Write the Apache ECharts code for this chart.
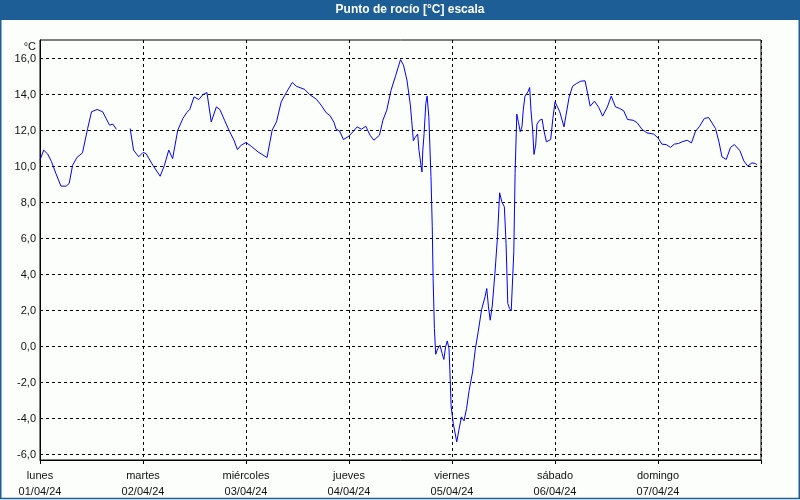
<!DOCTYPE html>
<html>
<head>
<meta charset="utf-8">
<script src="https://cdn.jsdelivr.net/npm/echarts@6/dist/echarts.min.js"></script>
<style>
  html, body { margin: 0; padding: 0; background: #fcfefc; }
  #chart { width: 800px; height: 500px; }
</style>
</head>
<body>
<div id="chart"></div>
<script>
// Data (hours since 01/04/24 00:00, dew point °C)
var hours = [0, 0.86, 1.8, 2.7, 3.7, 4.9, 6.1, 6.8, 7.6, 8.6, 9.9, 11.1, 12.0, 13.3, 14.6, 15.4, 16.2, 17.0, 17.8,
  19.4,
  21.0, 21.8, 23.0, 24.0, 24.7, 26.3, 28.0, 29.0, 30.0, 30.9, 32.1, 33.3, 34.2, 34.9, 35.9, 37.0, 38.0, 38.9, 39.9,
  41.1, 41.9, 43.0, 44.2, 45.2, 46.0, 46.9, 48.0, 49.2, 50.8, 52.9, 54.1, 55.1, 56.2, 57.4, 58.8, 59.7, 61.7, 62.8,
  64.4, 65.5, 66.7, 67.6, 68.5, 69.0, 69.8, 70.7, 72.0, 73.1, 73.9, 74.9, 75.9, 76.9, 77.8, 79.1, 79.9, 80.8, 81.8,
  82.9, 84.0, 84.7, 85.5, 86.3, 86.6, 87.0, 87.4, 88.0, 88.3, 88.8, 89.0, 89.2, 89.5, 89.9, 90.2, 90.6, 91.1, 91.4,
  91.6, 91.9, 92.2, 92.7, 93.2, 93.7, 94.1, 94.5, 94.9, 95.3, 95.5, 95.8, 96.3, 97.1, 97.6, 98.2, 98.8, 99.4, 100.0,
  100.8, 101.4, 102.1, 102.9, 103.7, 104.1, 104.5, 104.9, 105.4, 106.0, 106.6, 107.1, 107.6, 108.2, 108.6, 109.0,
  109.4, 109.8, 110.4, 110.7, 111.1, 111.5, 111.9, 112.3, 112.6, 113.0, 113.7, 114.1, 114.4, 114.8, 115.1, 115.5,
  115.8, 116.4, 117.0, 117.4, 118.0, 119.0, 119.5, 120.0, 120.5, 121.1, 122.1, 122.5, 123.3, 124.1, 125.0, 126.0,
  127.0, 127.6, 128.2, 129.2, 130.2, 131.1, 132.2, 133.1, 134.1, 135.1, 136.0, 136.9, 138.2, 139.1, 140.3, 141.4,
  143.0, 144.0, 144.9, 145.9, 146.9, 147.8, 148.8, 149.6, 150.8, 151.8, 152.7, 153.7, 154.8, 155.8, 157.4, 158.2,
  158.9, 159.9, 160.9, 161.8, 163.1, 164.0, 164.9, 165.9, 166.7, 167.1];
var dewPoint = [10.35, 10.91, 10.69, 10.26, 9.61, 8.91, 8.91, 9.06, 10.07, 10.5, 10.76, 12.11, 13.04, 13.17, 13.04, 12.67, 12.3, 12.35, 12.07,
  null,
  12.11, 10.91, 10.54, 10.78, 10.72, 10.07, 9.46, 10.07, 10.91, 10.44, 12.02, 12.67, 13.0, 13.17, 13.87, 13.72, 14.0, 14.11, 12.48,
  13.31, 13.17, 12.57, 11.93, 11.46, 10.94, 11.19, 11.33, 11.13, 10.81, 10.5, 12.02, 12.48, 13.59, 14.11, 14.67, 14.46, 14.28, 14.0,
  13.74, 13.41, 12.98, 12.82, 12.45, 12.07, 11.98, 11.5, 11.69, 11.98, 12.2, 12.07, 12.24, 11.74, 11.46, 11.74, 12.57, 13.13, 14.24,
  15.07, 15.94, 15.63, 14.8, 13.41, 12.57, 11.43, 11.61, 11.8, 10.91, 10.02, 9.7, 10.91, 11.83, 13.5, 13.91, 12.76, 9.43, 6.65,
  3.78, 1.0, -0.43, -0.11, 0.07, -0.39, -0.72, -0.02, 0.31, -0.11, -1.31, -3.35, -4.28, -5.3, -4.65, -3.91, -4.13, -3.44, -2.43,
  -1.41, -0.2, 0.81, 2.06, 2.76, 3.22, 2.2, 1.46, 2.3, 4.06, 6.09, 8.54, 8.04, 7.76, 5.72, 2.39,
  2.11, 1.98, 5.26, 9.61, 12.91, 12.43, 11.93, 12.2, 13.13, 13.91, 14.15, 14.39, 13.13, 12.02, 10.67, 11.19,
  12.35, 12.57, 12.63, 12.02, 11.37, 11.5, 12.67, 13.59, 13.35, 13.04, 12.2, 12.76, 13.87, 14.46, 14.61, 14.74,
  14.76, 14.06, 13.35, 13.63, 13.28, 12.8, 13.31, 13.91, 13.31, 13.22, 13.1, 12.61, 12.57, 12.44, 12.06, 11.87,
  11.8, 11.59, 11.24, 11.22, 11.06, 11.24, 11.28, 11.37, 11.46, 11.31, 11.93, 12.24, 12.67, 12.72, 12.11, 11.37,
  10.54, 10.39, 11.06, 11.22, 10.87, 10.31, 10.02, 10.2, 10.17, 10.07];
var dayNames = ['lunes', 'martes', 'miércoles', 'jueves', 'viernes', 'sábado', 'domingo'];
var dayDates = ['01/04/24', '02/04/24', '03/04/24', '04/04/24', '05/04/24', '06/04/24', '07/04/24'];
var yTicks = [-6, -4, -2, 0, 2, 4, 6, 8, 10, 12, 14, 16];
var titleText = 'Punto de rocío [°C] escala';
var unitText = '°C';

var seriesData = hours.map(function (h, i) { return [h, dewPoint[i] === null ? '-' : dewPoint[i]]; });

var FONT = 'Liberation Sans';
var BAR = '#1e5e96';
var chart = echarts.init(document.getElementById('chart'), null, { renderer: 'canvas' });
chart.setOption({
  animation: false,
  backgroundColor: '#fcfefc',
  textStyle: { fontFamily: FONT },
  grid: [
    { left: 40, right: 39, top: 58.5, bottom: 45.5, containLabel: false },
    { left: 40, right: 39, top: 40, bottom: 40, show: true, borderColor: '#000', borderWidth: 1, backgroundColor: 'transparent' }
  ],
  xAxis: [
    { gridIndex: 0, type: 'value', min: 0, max: 168, interval: 24, show: false },
    {
      gridIndex: 1, type: 'value', min: 0, max: 168, interval: 24,
      axisLine: { show: true, lineStyle: { color: '#000', width: 1 } },
      axisTick: { show: true, length: 4, lineStyle: { color: '#000' } },
      splitLine: { show: true, lineStyle: { color: '#000', type: [3, 3], width: 1 } },
      axisLabel: {
        color: '#111', fontFamily: FONT, fontSize: 11, lineHeight: 16, margin: 8,
        formatter: function (v) {
          var i = Math.round(v / 24);
          return i < dayNames.length ? dayNames[i] + '\n' + dayDates[i] : '';
        }
      }
    }
  ],
  yAxis: [
    {
      gridIndex: 0, type: 'value', min: yTicks[0], max: yTicks[yTicks.length - 1], interval: 2,
      axisLine: { show: false },
      axisTick: { show: false },
      splitLine: { show: true, lineStyle: { color: '#000', type: [3, 3], width: 1 } },
      axisLabel: {
        color: '#111', fontFamily: FONT, fontSize: 11, margin: 4, padding: [3, 0, 0, 0],
        formatter: function (v) { return v.toFixed(1).replace('.', ','); }
      }
    },
    {
      gridIndex: 1, type: 'value', min: 0, max: 1,
      axisLine: { show: true, lineStyle: { color: '#000' } },
      axisTick: { show: false }, axisLabel: { show: false }, splitLine: { show: false }
    }
  ],
  series: [{
    type: 'line', xAxisIndex: 0, yAxisIndex: 0,
    data: seriesData,
    showSymbol: false, symbol: 'none',
    connectNulls: false,
    lineStyle: { color: '#0000ff', width: 1 },
    z: 5
  }],
  graphic: [
    { type: 'rect', shape: { x: 0, y: 0, width: 800, height: 20 }, style: { fill: BAR }, z: 10 },
    { type: 'rect', shape: { x: 0.75, y: 0, width: 798.5, height: 498.5 }, style: { fill: null, stroke: BAR, lineWidth: 1.5 }, z: 10 },
    { type: 'text', x: 410, y: 10, style: { text: titleText, fill: '#fff', font: 'bold 12px "Liberation Sans"', textAlign: 'center', textVerticalAlign: 'middle' }, z: 11 },
    { type: 'text', x: 36, y: 47, style: { text: unitText, fill: '#111', font: '11px "Liberation Sans"', textAlign: 'right', textVerticalAlign: 'middle' }, z: 11 }
  ]
});
</script>
</body>
</html>
